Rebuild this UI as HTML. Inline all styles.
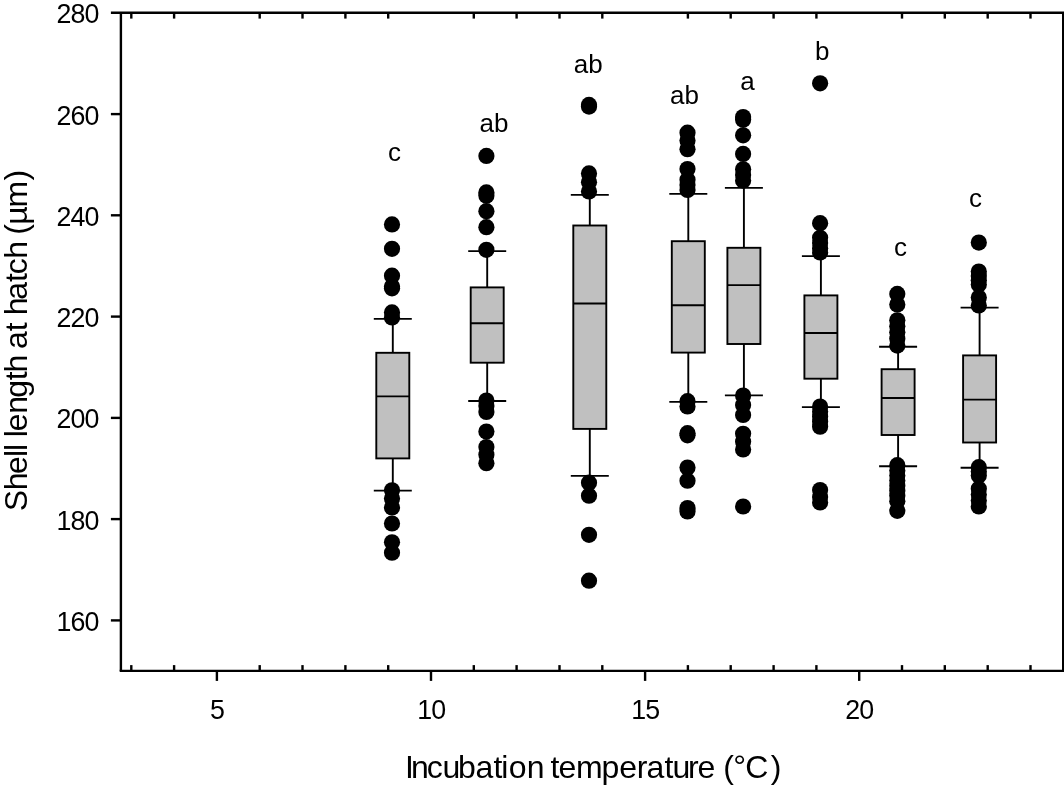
<!DOCTYPE html>
<html lang="en">
<head>
<meta charset="utf-8">
<title>Shell length at hatch vs incubation temperature</title>
<style>
html,body{margin:0;padding:0;background:#fff;}
body{width:1064px;height:788px;overflow:hidden;}
svg{display:block;}
text{font-family:"Liberation Sans",Arial,Helvetica,sans-serif;fill:#000;}
.tk{font-size:28.4px;}
.lb{font-size:26px;}
.ti{font-size:32px;}
</style>
</head>
<body>
<svg width="1064" height="788" viewBox="0 0 1064 788">
<rect x="0" y="0" width="1064" height="788" fill="#fff"/>
<g stroke="#000" stroke-width="1.90" fill="none">
<line x1="392.8" y1="318.9" x2="392.8" y2="352.8"/><line x1="392.8" y1="458.4" x2="392.8" y2="490.6"/><line x1="373.8" y1="318.9" x2="411.8" y2="318.9"/><line x1="373.8" y1="490.6" x2="411.8" y2="490.6"/><rect x="376.3" y="352.8" width="33.0" height="105.6" fill="#c0c0c0"/><line x1="376.3" y1="396.4" x2="409.3" y2="396.4"/>
<line x1="487.2" y1="251.1" x2="487.2" y2="287.4"/><line x1="487.2" y1="362.7" x2="487.2" y2="401.0"/><line x1="468.2" y1="251.1" x2="506.2" y2="251.1"/><line x1="468.2" y1="401.0" x2="506.2" y2="401.0"/><rect x="470.7" y="287.4" width="33.0" height="75.3" fill="#c0c0c0"/><line x1="470.7" y1="323.2" x2="503.7" y2="323.2"/>
<line x1="589.8" y1="194.9" x2="589.8" y2="225.5"/><line x1="589.8" y1="428.9" x2="589.8" y2="475.9"/><line x1="570.8" y1="194.9" x2="608.8" y2="194.9"/><line x1="570.8" y1="475.9" x2="608.8" y2="475.9"/><rect x="573.3" y="225.5" width="33.0" height="203.4" fill="#c0c0c0"/><line x1="573.3" y1="303.5" x2="606.3" y2="303.5"/>
<line x1="688.3" y1="193.9" x2="688.3" y2="241.2"/><line x1="688.3" y1="352.6" x2="688.3" y2="401.9"/><line x1="669.3" y1="193.9" x2="707.3" y2="193.9"/><line x1="669.3" y1="401.9" x2="707.3" y2="401.9"/><rect x="671.8" y="241.2" width="33.0" height="111.4" fill="#c0c0c0"/><line x1="671.8" y1="305.2" x2="704.8" y2="305.2"/>
<line x1="743.9" y1="187.9" x2="743.9" y2="247.8"/><line x1="743.9" y1="344.0" x2="743.9" y2="395.4"/><line x1="724.9" y1="187.9" x2="762.9" y2="187.9"/><line x1="724.9" y1="395.4" x2="762.9" y2="395.4"/><rect x="727.4" y="247.8" width="33.0" height="96.2" fill="#c0c0c0"/><line x1="727.4" y1="285.1" x2="760.4" y2="285.1"/>
<line x1="820.9" y1="256.1" x2="820.9" y2="295.4"/><line x1="820.9" y1="378.7" x2="820.9" y2="407.1"/><line x1="801.9" y1="256.1" x2="839.9" y2="256.1"/><line x1="801.9" y1="407.1" x2="839.9" y2="407.1"/><rect x="804.4" y="295.4" width="33.0" height="83.3" fill="#c0c0c0"/><line x1="804.4" y1="333.0" x2="837.4" y2="333.0"/>
<line x1="898.1" y1="346.8" x2="898.1" y2="369.2"/><line x1="898.1" y1="435.0" x2="898.1" y2="466.2"/><line x1="879.1" y1="346.8" x2="917.1" y2="346.8"/><line x1="879.1" y1="466.2" x2="917.1" y2="466.2"/><rect x="881.6" y="369.2" width="33.0" height="65.8" fill="#c0c0c0"/><line x1="881.6" y1="398.0" x2="914.6" y2="398.0"/>
<line x1="979.6" y1="307.6" x2="979.6" y2="355.4"/><line x1="979.6" y1="442.5" x2="979.6" y2="467.7"/><line x1="960.6" y1="307.6" x2="998.6" y2="307.6"/><line x1="960.6" y1="467.7" x2="998.6" y2="467.7"/><rect x="963.1" y="355.4" width="33.0" height="87.1" fill="#c0c0c0"/><line x1="963.1" y1="399.6" x2="996.1" y2="399.6"/>
</g>
<g fill="#000">
<circle cx="392.0" cy="224.4" r="8.1"/><circle cx="392.0" cy="248.8" r="8.1"/><circle cx="392.0" cy="275.7" r="8.1"/><circle cx="392.0" cy="286.4" r="8.1"/><circle cx="392.0" cy="288.3" r="8.1"/><circle cx="392.0" cy="312.4" r="8.1"/><circle cx="392.0" cy="317.4" r="8.1"/><circle cx="392.0" cy="490.3" r="8.1"/><circle cx="392.0" cy="498.4" r="8.1"/><circle cx="392.0" cy="507.5" r="8.1"/><circle cx="392.0" cy="523.5" r="8.1"/><circle cx="392.0" cy="542.3" r="8.1"/><circle cx="392.0" cy="552.7" r="8.1"/>
<circle cx="486.4" cy="155.9" r="8.1"/><circle cx="486.4" cy="192.4" r="8.1"/><circle cx="486.4" cy="195.7" r="8.1"/><circle cx="486.4" cy="211.2" r="8.1"/><circle cx="486.4" cy="227.2" r="8.1"/><circle cx="486.4" cy="249.8" r="8.1"/><circle cx="486.4" cy="400.5" r="8.1"/><circle cx="486.4" cy="406.0" r="8.1"/><circle cx="486.4" cy="411.9" r="8.1"/><circle cx="486.4" cy="431.5" r="8.1"/><circle cx="486.4" cy="447.0" r="8.1"/><circle cx="486.4" cy="454.8" r="8.1"/><circle cx="486.4" cy="463.2" r="8.1"/>
<circle cx="589.0" cy="104.9" r="8.1"/><circle cx="589.0" cy="106.6" r="8.1"/><circle cx="589.0" cy="173.4" r="8.1"/><circle cx="589.0" cy="182.2" r="8.1"/><circle cx="589.0" cy="191.4" r="8.1"/><circle cx="589.0" cy="482.7" r="8.1"/><circle cx="589.0" cy="495.7" r="8.1"/><circle cx="589.0" cy="534.8" r="8.1"/><circle cx="589.0" cy="580.7" r="8.1"/>
<circle cx="687.5" cy="132.7" r="8.1"/><circle cx="687.5" cy="140.6" r="8.1"/><circle cx="687.5" cy="149.2" r="8.1"/><circle cx="687.5" cy="169.0" r="8.1"/><circle cx="687.5" cy="179.8" r="8.1"/><circle cx="687.5" cy="185.0" r="8.1"/><circle cx="687.5" cy="189.9" r="8.1"/><circle cx="687.5" cy="401.2" r="8.1"/><circle cx="687.5" cy="406.5" r="8.1"/><circle cx="687.5" cy="433.2" r="8.1"/><circle cx="687.5" cy="435.3" r="8.1"/><circle cx="687.5" cy="467.5" r="8.1"/><circle cx="687.5" cy="480.7" r="8.1"/><circle cx="687.5" cy="508.1" r="8.1"/><circle cx="687.5" cy="511.4" r="8.1"/>
<circle cx="743.1" cy="117.1" r="8.1"/><circle cx="743.1" cy="119.8" r="8.1"/><circle cx="743.1" cy="135.3" r="8.1"/><circle cx="743.1" cy="153.9" r="8.1"/><circle cx="743.1" cy="169.3" r="8.1"/><circle cx="743.1" cy="175.0" r="8.1"/><circle cx="743.1" cy="180.6" r="8.1"/><circle cx="743.1" cy="395.5" r="8.1"/><circle cx="743.1" cy="405.1" r="8.1"/><circle cx="743.1" cy="415.0" r="8.1"/><circle cx="743.1" cy="433.8" r="8.1"/><circle cx="743.1" cy="441.7" r="8.1"/><circle cx="743.1" cy="449.5" r="8.1"/><circle cx="743.1" cy="506.5" r="8.1"/>
<circle cx="820.1" cy="83.3" r="8.1"/><circle cx="820.1" cy="223.2" r="8.1"/><circle cx="820.1" cy="237.8" r="8.1"/><circle cx="820.1" cy="243.1" r="8.1"/><circle cx="820.1" cy="248.2" r="8.1"/><circle cx="820.1" cy="252.5" r="8.1"/><circle cx="820.1" cy="406.5" r="8.1"/><circle cx="820.1" cy="411.6" r="8.1"/><circle cx="820.1" cy="416.7" r="8.1"/><circle cx="820.1" cy="421.8" r="8.1"/><circle cx="820.1" cy="426.7" r="8.1"/><circle cx="820.1" cy="490.1" r="8.1"/><circle cx="820.1" cy="496.9" r="8.1"/><circle cx="820.1" cy="502.5" r="8.1"/>
<circle cx="897.3" cy="293.9" r="8.1"/><circle cx="897.3" cy="304.5" r="8.1"/><circle cx="897.3" cy="320.3" r="8.1"/><circle cx="897.3" cy="326.2" r="8.1"/><circle cx="897.3" cy="332.2" r="8.1"/><circle cx="897.3" cy="338.8" r="8.1"/><circle cx="897.3" cy="345.6" r="8.1"/><circle cx="897.3" cy="465.2" r="8.1"/><circle cx="897.3" cy="470.5" r="8.1"/><circle cx="897.3" cy="475.5" r="8.1"/><circle cx="897.3" cy="480.6" r="8.1"/><circle cx="897.3" cy="485.7" r="8.1"/><circle cx="897.3" cy="490.8" r="8.1"/><circle cx="897.3" cy="495.8" r="8.1"/><circle cx="897.3" cy="501.2" r="8.1"/><circle cx="897.3" cy="510.8" r="8.1"/>
<circle cx="978.8" cy="242.6" r="8.1"/><circle cx="978.8" cy="271.6" r="8.1"/><circle cx="978.8" cy="276.0" r="8.1"/><circle cx="978.8" cy="280.3" r="8.1"/><circle cx="978.8" cy="284.6" r="8.1"/><circle cx="978.8" cy="297.5" r="8.1"/><circle cx="978.8" cy="305.5" r="8.1"/><circle cx="978.8" cy="467.2" r="8.1"/><circle cx="978.8" cy="471.4" r="8.1"/><circle cx="978.8" cy="475.5" r="8.1"/><circle cx="978.8" cy="488.7" r="8.1"/><circle cx="978.8" cy="494.6" r="8.1"/><circle cx="978.8" cy="500.5" r="8.1"/><circle cx="978.8" cy="506.5" r="8.1"/>
</g>
<g stroke="#000" stroke-width="2.40" fill="none" stroke-linecap="butt">
<line x1="110.9" y1="12.8" x2="1064.4" y2="12.8"/><line x1="119.7" y1="670.9" x2="1064.4" y2="670.9"/><line x1="120.9" y1="12.8" x2="120.9" y2="670.9"/><line x1="1063.2" y1="12.8" x2="1063.2" y2="670.9"/>
<line x1="110.9" y1="114.1" x2="120.9" y2="114.1"/><line x1="110.9" y1="215.3" x2="120.9" y2="215.3"/><line x1="110.9" y1="316.6" x2="120.9" y2="316.6"/><line x1="110.9" y1="417.9" x2="120.9" y2="417.9"/><line x1="110.9" y1="519.1" x2="120.9" y2="519.1"/><line x1="110.9" y1="620.4" x2="120.9" y2="620.4"/>
<line x1="131.3" y1="665.1" x2="131.3" y2="670.9"/><line x1="131.3" y1="12.8" x2="131.3" y2="18.6"/><line x1="174.1" y1="665.1" x2="174.1" y2="670.9"/><line x1="174.1" y1="12.8" x2="174.1" y2="18.6"/><line x1="216.9" y1="670.9" x2="216.9" y2="680.9"/><line x1="259.7" y1="665.1" x2="259.7" y2="670.9"/><line x1="259.7" y1="12.8" x2="259.7" y2="18.6"/><line x1="302.5" y1="665.1" x2="302.5" y2="670.9"/><line x1="302.5" y1="12.8" x2="302.5" y2="18.6"/><line x1="345.4" y1="665.1" x2="345.4" y2="670.9"/><line x1="345.4" y1="12.8" x2="345.4" y2="18.6"/><line x1="388.2" y1="665.1" x2="388.2" y2="670.9"/><line x1="388.2" y1="12.8" x2="388.2" y2="18.6"/><line x1="431.0" y1="670.9" x2="431.0" y2="680.9"/><line x1="473.8" y1="665.1" x2="473.8" y2="670.9"/><line x1="473.8" y1="12.8" x2="473.8" y2="18.6"/><line x1="516.6" y1="665.1" x2="516.6" y2="670.9"/><line x1="516.6" y1="12.8" x2="516.6" y2="18.6"/><line x1="559.5" y1="665.1" x2="559.5" y2="670.9"/><line x1="559.5" y1="12.8" x2="559.5" y2="18.6"/><line x1="602.3" y1="665.1" x2="602.3" y2="670.9"/><line x1="602.3" y1="12.8" x2="602.3" y2="18.6"/><line x1="645.1" y1="670.9" x2="645.1" y2="680.9"/><line x1="687.9" y1="665.1" x2="687.9" y2="670.9"/><line x1="687.9" y1="12.8" x2="687.9" y2="18.6"/><line x1="730.7" y1="665.1" x2="730.7" y2="670.9"/><line x1="730.7" y1="12.8" x2="730.7" y2="18.6"/><line x1="773.6" y1="665.1" x2="773.6" y2="670.9"/><line x1="773.6" y1="12.8" x2="773.6" y2="18.6"/><line x1="816.4" y1="665.1" x2="816.4" y2="670.9"/><line x1="816.4" y1="12.8" x2="816.4" y2="18.6"/><line x1="859.2" y1="670.9" x2="859.2" y2="680.9"/><line x1="902.0" y1="665.1" x2="902.0" y2="670.9"/><line x1="902.0" y1="12.8" x2="902.0" y2="18.6"/><line x1="944.8" y1="665.1" x2="944.8" y2="670.9"/><line x1="944.8" y1="12.8" x2="944.8" y2="18.6"/><line x1="987.7" y1="665.1" x2="987.7" y2="670.9"/><line x1="987.7" y1="12.8" x2="987.7" y2="18.6"/><line x1="1030.5" y1="665.1" x2="1030.5" y2="670.9"/><line x1="1030.5" y1="12.8" x2="1030.5" y2="18.6"/>
</g>
<text class="tk" transform="scale(0.943,1)" x="59.92 74.71 89.51" y="23.34">280</text><text class="tk" transform="scale(0.943,1)" x="59.92 74.71 89.51" y="124.61">260</text><text class="tk" transform="scale(0.943,1)" x="59.92 74.71 89.51" y="225.87">240</text><text class="tk" transform="scale(0.943,1)" x="59.92 74.71 89.51" y="327.14">220</text><text class="tk" transform="scale(0.943,1)" x="59.92 74.71 89.51" y="428.40">200</text><text class="tk" transform="scale(0.943,1)" x="59.92 74.71 89.51" y="529.67">180</text><text class="tk" transform="scale(0.943,1)" x="59.92 74.71 89.51" y="630.94">160</text>
<text class="tk" transform="scale(0.943,1)" x="222.65" y="718.90">5</text><text class="tk" transform="scale(0.943,1)" x="442.50 457.30" y="718.90">10</text><text class="tk" transform="scale(0.943,1)" x="669.38 684.18" y="718.90">15</text><text class="tk" transform="scale(0.943,1)" x="896.37 911.17" y="718.90">20</text>
<text class="lb" x="388.09" y="161.20">c</text><text class="lb" x="479.54" y="131.60">ab</text><text class="lb" x="573.79" y="73.40">ab</text><text class="lb" x="669.99" y="103.80">ab</text><text class="lb" x="740.18" y="89.60">a</text><text class="lb" x="814.92" y="59.60">b</text><text class="lb" x="893.94" y="256.30">c</text><text class="lb" x="968.99" y="206.80">c</text>
<text class="ti" x="404.96 410.99 426.76 442.47 458.02 475.56 493.62 501.26 508.86 526.79 542.79 550.62 558.46 575.89 601.62 619.26 636.79 646.56 664.52 672.52 687.99 697.56 713.56 723.32 733.13 745.17 770.71" y="777.7 777.7 777.7 777.7 777.7 777.7 777.7 777.7 777.7 777.7 777.7 777.7 777.7 777.7 777.7 777.7 777.7 777.7 777.7 777.7 777.7 777.7 777.7 777.7 776.7 777.7 777.7">Incubation temperature (°C)</text>
<text class="ti" transform="translate(26.9,509.8) rotate(-90)" x="-1.37 19.49 35.76 52.86 58.76 74.76 72.66 78.56 96.09 111.96 129.62 137.39 153.39 160.86 178.52 194.52 194.49 210.06 227.72 235.61 251.09 267.09 274.97 285.07 302.29 329.41" y="0">Shell length at hatch (µm)</text>
</svg>
</body>
</html>
